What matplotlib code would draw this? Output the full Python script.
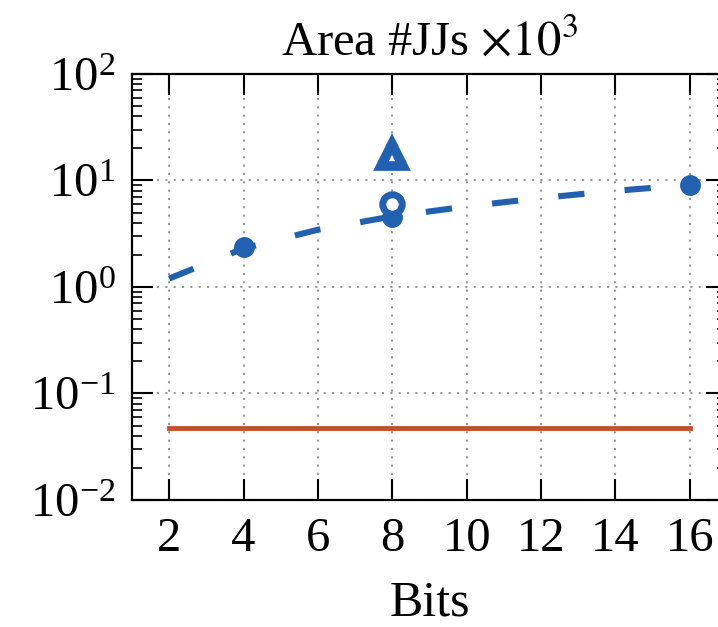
import matplotlib
matplotlib.use('Agg')
import matplotlib.pyplot as plt

plt.rcParams['font.family'] = ['Liberation Serif', 'DejaVu Serif']
plt.rcParams['mathtext.fontset'] = 'stix'

# data
fit_bits = [2, 4, 6, 8, 10, 12, 14, 16]
fit_area = [1.2, 2.3, 3.45, 4.6, 5.7, 6.85, 8.0, 9.1]
meas_bits = [4, 8, 16]
meas_area = [2.38, 4.55, 9.1]
open_bits = [8]
open_area = [6.0]
tri_bits = [8]
tri_area = [17.5]
base_bits = [2, 16]
base_area = [0.047, 0.047]

blue = '#2260B0'
red = '#C4512B'

fig = plt.figure(figsize=(7.18, 6.27), dpi=100)
ax = fig.add_axes([0.1838, 0.2026, 0.8287, 0.6794])

ax.plot(fit_bits, fit_area, color=blue, lw=4.4, ls=(0, (4.3, 6.6)), zorder=3)
ax.plot(meas_bits, meas_area, 'o', color=blue, ms=14, zorder=4)
ax.plot(open_bits, open_area, 'o', mfc='white', mec=blue, mew=5, ms=14, zorder=5)
ax.plot(tri_bits, tri_area, '^', mfc='white', mec=blue, mew=7, ms=16, zorder=5)
ax.plot(base_bits, base_area, color=red, lw=3.5, zorder=3)

ax.set_yscale('log')
ax.set_xlim(1, 17)
ax.set_ylim(1e-2, 1e2)
ax.set_xticks([2, 4, 6, 8, 10, 12, 14, 16])
ax.set_yticks([1e-2, 1e-1, 1e0, 1e1, 1e2])
ax.grid(True, which='major', ls=(0, (1, 3)), color='#999999', lw=1.5)
ax.tick_params(which='major', direction='in', length=15, width=1.5,
               top=True, right=True, labelsize=35, pad=12)
ax.tick_params(which='minor', direction='in', length=7, width=1.2,
               right=True)
for s in ax.spines.values():
    s.set_linewidth(1.6)

ax.set_xlabel('Bits', fontsize=36, labelpad=14)
ax.set_title(r'Area #JJs $\times10^3$', fontsize=35, pad=14)

fig.savefig('out.png', dpi=100)
